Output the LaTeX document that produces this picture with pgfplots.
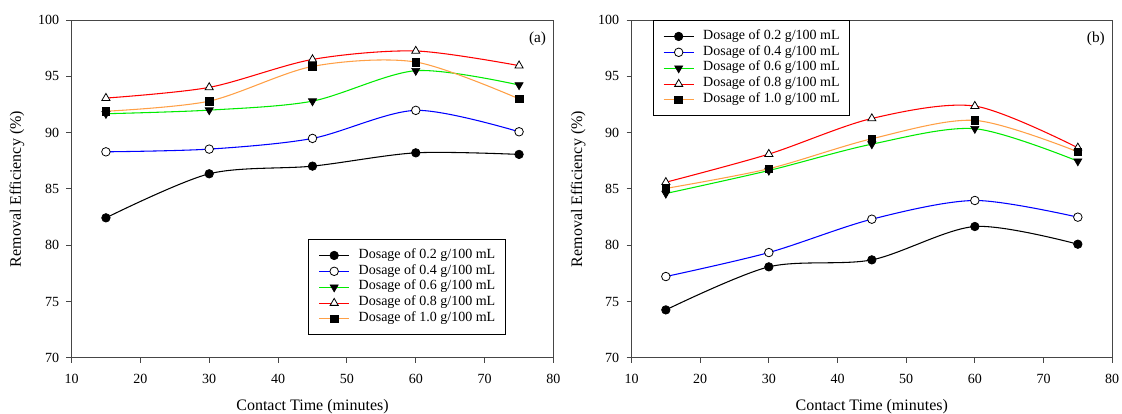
\documentclass[border=0pt]{standalone}
\usepackage{fontspec}
\setmainfont{Liberation Serif}
\usepackage{pgfplots}
\pgfplotsset{compat=1.18}

\definecolor{lorange}{RGB}{255,160,70}
\definecolor{framegray}{RGB}{70,70,70}
\definecolor{lgreen}{RGB}{0,235,0}

\pgfplotsset{
  panel/.style={
    scale only axis, height=253.5pt,
    xmin=10, xmax=80, ymin=70, ymax=100,
    xtick={10,20,...,80}, ytick={70,75,...,100},
    tick align=outside, xtick pos=bottom, ytick pos=left,
    major tick length=3.75pt,
    axis line style={framegray, line width=0.75pt},
    every tick/.style={framegray, line width=0.75pt},
    /pgf/number format/assume math mode=true,
    tick label style={font=\fontsize{10.5}{12}\selectfont},
    xticklabel style={yshift=-4.5pt},
    yticklabel style={xshift=-2pt},
    label style={font=\fontsize{12}{14}\selectfont},
    xlabel={Contact Time (minutes)},
    ylabel={Removal Efficiency (\%)},
    xlabel style={at={(axis description cs:0.5,-0.144)}, anchor=center},
    legend style={font=\fontsize{10.5}{12}\selectfont, line width=0.75pt,
      inner xsep=7.5pt, inner ysep=6pt, column sep=6.75pt,
      nodes={inner sep=0pt, text height=8pt, text depth=3.9pt},
      cells={anchor=west}},
    legend image code/.code={\draw[mark repeat=2,mark phase=2,#1]
      plot coordinates {(0pt,0pt) (11.25pt,0pt) (22.5pt,0pt)};},
    every axis plot/.append style={smooth, line width=0.8pt},
  },
  s1/.style={black, draw=black, mark=*, mark size=3.2pt, mark options={fill=black, draw=black, line width=0.5pt}},
  s2/.style={blue, draw=blue, mark=*, mark size=3.2pt, mark options={fill=white, draw=black, line width=0.6pt}},
  s3/.style={lgreen, draw=lgreen, mark=triangle*, mark size=3.5pt, mark options={fill=black, draw=black, rotate=180, line width=0.5pt}},
  s4/.style={red, draw=red, mark=triangle*, mark size=3.5pt, mark options={fill=white, draw=black, line width=0.6pt}},
  s5/.style={lorange, draw=lorange, mark=square*, mark size=2.9pt, mark options={fill=black, draw=black, line width=0.5pt}},
}

\begin{document}
\begin{tikzpicture}
\useasboundingbox (0pt,0pt) rectangle (841.5pt,310.5pt);

% panel (a)
\begin{axis}[panel, width=361.5pt, at={(53.625pt,42pt)}, anchor=south west,
  ylabel style={at={(axis description cs:-0.113,0.5)}, anchor=center},
  legend style={at={(0.491,0.352)}, anchor=north west}]
\addplot[s1] coordinates {(15,82.44) (30,86.35) (45,87.03) (60,88.21) (75,88.07)};
\addplot[s2] coordinates {(15,88.30) (30,88.54) (45,89.49) (60,91.98) (75,90.08)};
\addplot[s3] coordinates {(15,91.68) (30,92.00) (45,92.80) (60,95.50) (75,94.23)};
\addplot[s4] coordinates {(15,93.07) (30,94.02) (45,96.50) (60,97.25) (75,95.95)};
\addplot[s5] coordinates {(15,91.90) (30,92.80) (45,95.88) (60,96.27) (75,93.00)};
\legend{Dosage of 0.2 g/100 mL, Dosage of 0.4 g/100 mL, Dosage of 0.6 g/100 mL,
  Dosage of 0.8 g/100 mL, Dosage of 1.0 g/100 mL}
\node[font=\fontsize{11.5}{13}\selectfont] at (rel axis cs:0.967,0.944) {(a)};
\end{axis}

% panel (b)
\begin{axis}[panel, width=360.5pt, at={(473.625pt,42pt)}, anchor=south west,
  ylabel style={at={(axis description cs:-0.111,0.5)}, anchor=center},
  legend style={at={(0.044,1)}, anchor=north west}]
\addplot[s1] coordinates {(15,74.27) (30,78.09) (45,78.71) (60,81.67) (75,80.10)};
\addplot[s2] coordinates {(15,77.23) (30,79.36) (45,82.32) (60,83.98) (75,82.50)};
\addplot[s3] coordinates {(15,84.60) (30,86.64) (45,88.98) (60,90.35) (75,87.47)};
\addplot[s4] coordinates {(15,85.60) (30,88.10) (45,91.26) (60,92.36) (75,88.66)};
\addplot[s5] coordinates {(15,85.05) (30,86.80) (45,89.46) (60,91.09) (75,88.30)};
\legend{Dosage of 0.2 g/100 mL, Dosage of 0.4 g/100 mL, Dosage of 0.6 g/100 mL,
  Dosage of 0.8 g/100 mL, Dosage of 1.0 g/100 mL}
\node[font=\fontsize{11.5}{13}\selectfont] at (rel axis cs:0.966,0.944) {(b)};
\end{axis}
\end{tikzpicture}
\end{document}
